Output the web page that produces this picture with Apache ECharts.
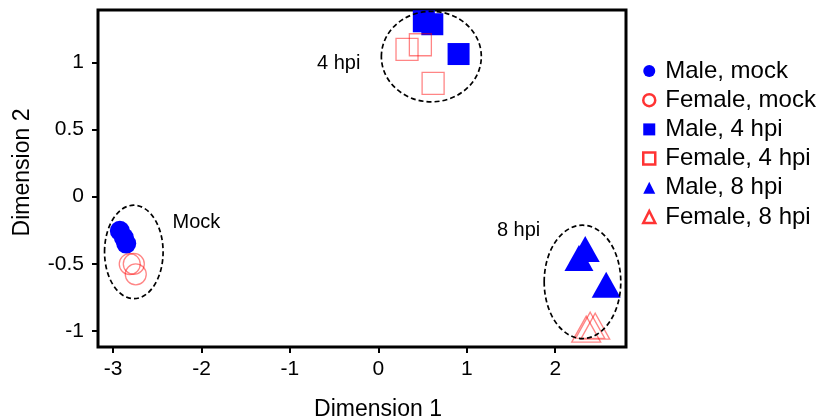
<!DOCTYPE html>
<html>
<head>
<meta charset="utf-8">
<script src="https://cdn.jsdelivr.net/npm/echarts@6/dist/echarts.min.js"></script>
<style>
  html, body { margin: 0; padding: 0; background: #fff; }
  #chart { width: 821px; height: 419px; }
</style>
</head>
<body>
<div id="chart"></div>
<script>
// MDS coordinates per sample group (Dimension 1, Dimension 2)
const maleMockX     = [-2.923, -2.878, -2.851];
const maleMockY     = [-0.255, -0.305, -0.350];
const femaleMockX   = [-2.811, -2.765, -2.743];
const femaleMockY   = [-0.502, -0.501, -0.579];
const male4hpiX     = [0.514, 0.610, 0.907];
const male4hpiY     = [1.306, 1.284, 1.062];
const female4hpiX   = [0.324, 0.475, 0.619];
const female4hpiY   = [1.096, 1.131, 0.844];
const male8hpiX     = [2.339, 2.268, 2.576];
const male8hpiY     = [-0.390, -0.457, -0.656];
const female8hpiX   = [2.350, 2.395, 2.452];
const female8hpiY   = [-0.987, -0.958, -0.965];

const seriesNames = ['Male, mock', 'Female, mock', 'Male, 4 hpi', 'Female, 4 hpi', 'Male, 8 hpi', 'Female, 8 hpi'];

// Axis ticks
const dim1Ticks = [-3, -2, -1, 0, 1, 2];
const dim2Ticks = [-1, -0.5, 0, 0.5, 1];

// Cluster outlines: centre and radii in data units
const clusterNames = ['Mock', '4 hpi', '8 hpi'];
const clusterCx = [-2.765, 0.599, 2.308];
const clusterCy = [-0.412, 1.043, -0.635];
const clusterRx = [0.331, 0.565, 0.433];
const clusterRy = [0.348, 0.337, 0.422];
// Cluster caption anchors (data units)
const captionX = [-2.328, -0.203, 1.831];
const captionY = [-0.19, 0.993, -0.25];
const captionAlign = ['left', 'right', 'right'];

const FONT = "'Liberation Sans', Arial, Helvetica, sans-serif";
const BLUE = '#0000ff';
const RED = '#ff0000';
const OPEN_RED = 'rgba(255,0,0,0.6)';

function pairs(xs, ys) { return xs.map((x, i) => [x, ys[i]]); }

const groups = [
  { name: seriesNames[0], x: maleMockX,   y: maleMockY,   symbol: 'circle',   size: 20, filled: true },
  { name: seriesNames[1], x: femaleMockX, y: femaleMockY, symbol: 'circle',   size: 21, filled: false },
  { name: seriesNames[2], x: male4hpiX,   y: male4hpiY,   symbol: 'rect',     size: 22, filled: true },
  { name: seriesNames[3], x: female4hpiX, y: female4hpiY, symbol: 'rect',     size: 22, filled: false },
  { name: seriesNames[4], x: male8hpiX,   y: male8hpiY,   symbol: 'triangle', size: [29, 26], filled: true },
  { name: seriesNames[5], x: female8hpiX, y: female8hpiY, symbol: 'triangle', size: [29, 26], filled: false }
];

const scatterSeries = groups.map(g => ({
  type: 'scatter',
  name: g.name,
  data: pairs(g.x, g.y),
  symbol: g.symbol,
  symbolSize: g.size,
  z: 3,
  itemStyle: g.filled
    ? { color: BLUE, opacity: 1 }
    : { color: 'rgba(0,0,0,0)', borderColor: OPEN_RED, borderWidth: 1.3 }
}));

const clusterSeries = {
  type: 'custom',
  name: 'clusters',
  coordinateSystem: 'cartesian2d',
  silent: true,
  z: 4,
  data: clusterNames.map((n, i) => [clusterCx[i], clusterCy[i], clusterRx[i], clusterRy[i], captionX[i], captionY[i], i]),
  renderItem: function (params, api) {
    const c = api.coord([api.value(0), api.value(1)]);
    const r = api.size([api.value(2), api.value(3)]);
    const t = api.coord([api.value(4), api.value(5)]);
    const idx = api.value(6);
    return {
      type: 'group',
      children: [
        {
          type: 'ellipse',
          shape: { cx: c[0], cy: c[1], rx: r[0], ry: r[1] },
          style: { fill: 'none', stroke: '#000', lineWidth: 1.7, lineDash: [5, 3] }
        },
        {
          type: 'text',
          x: t[0], y: t[1],
          style: {
            text: clusterNames[idx],
            fill: '#000',
            font: '20px ' + FONT,
            align: captionAlign[idx],
            verticalAlign: 'middle'
          }
        }
      ]
    };
  }
};

const legendData = groups.map(g => ({
  name: g.name,
  icon: g.symbol,
  itemStyle: g.filled
    ? { color: BLUE, borderWidth: 0 }
    : { color: '#fff', borderColor: RED, borderWidth: 2.5 }
}));

const chart = echarts.init(document.getElementById('chart'), null, { renderer: 'canvas' });
chart.setOption({
  animation: false,
  backgroundColor: '#fff',
  textStyle: { fontFamily: FONT },
  grid: {
    left: 98, right: 195, top: 10, bottom: 72,
    outerBoundsMode: 'none',
    containLabel: false,
    show: true, borderColor: '#000', borderWidth: 3, backgroundColor: 'transparent'
  },
  legend: {
    orient: 'vertical',
    left: 642, top: 59,
    padding: 0,
    itemWidth: 12, itemHeight: 12,
    itemGap: 5.2,
    selectedMode: false,
    data: legendData,
    textStyle: { fontFamily: FONT, fontSize: 24, color: '#000', lineHeight: 24, padding: [0, 0, 0, 5] }
  },
  xAxis: {
    type: 'value',
    min: -3.17, max: 2.8,
    name: 'Dimension 1',
    nameLocation: 'middle',
    nameGap: 51,
    nameTextStyle: { fontFamily: FONT, fontSize: 23, color: '#000', padding: [0, 0, 0, 32] },
    axisLine: { show: false, onZero: false },
    axisTick: { show: true, inside: false, length: 6, lineStyle: { color: '#000', width: 2 }, customValues: dim1Ticks },
    axisLabel: { show: true, margin: 12, fontFamily: FONT, fontSize: 21, color: '#000', customValues: dim1Ticks },
    splitLine: { show: false }
  },
  yAxis: {
    type: 'value',
    min: -1.12, max: 1.39,
    name: 'Dimension 2',
    nameLocation: 'middle',
    nameGap: 64,
    nameTextStyle: { fontFamily: FONT, fontSize: 23, color: '#000', padding: [0, 0, 0, 12] },
    axisLine: { show: false, onZero: false },
    axisTick: { show: true, inside: false, length: 6, lineStyle: { color: '#000', width: 2 }, customValues: dim2Ticks },
    axisLabel: { show: true, margin: 14, fontFamily: FONT, fontSize: 21, color: '#000', customValues: dim2Ticks },
    splitLine: { show: false }
  },
  series: scatterSeries.concat([clusterSeries])
});
</script>
</body>
</html>
